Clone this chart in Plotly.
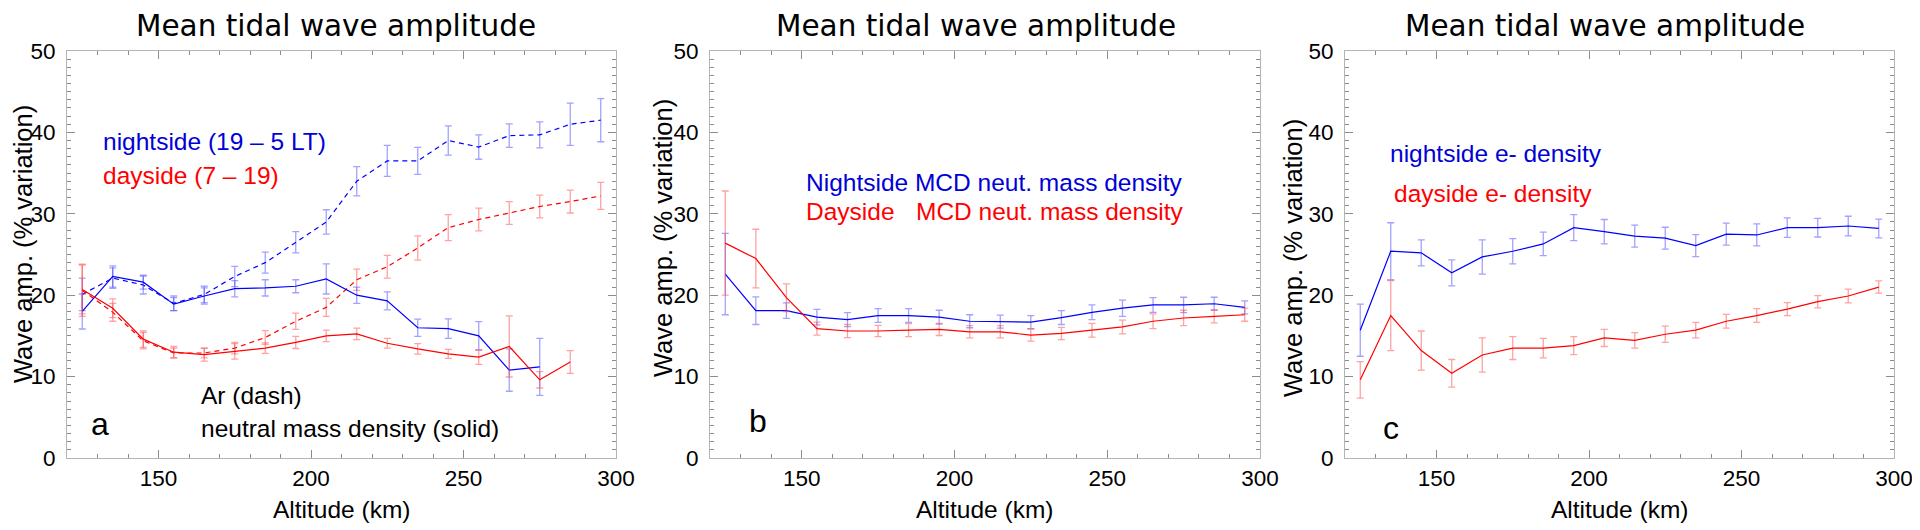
import plotly.graph_objects as go

# ---------------- data ----------------
altitude = [125, 135, 145, 155, 165, 175, 185, 195, 205, 215, 225, 235, 245, 255, 265, 275, 285, 295]

# panel a : Ar (dash) and neutral mass density (solid)
a_night_ar = [20.1, 22.1, 21.25, 19.0, 20.1, 22.3, 24.0, 26.5, 29.0, 34.0, 36.5, 36.5, 39.0, 38.2, 39.6, 39.7, 41.0, 41.5]
a_night_ar_err = [2.0, 1.25, 1.1, 0.9, 1.0, 1.25, 1.3, 1.3, 1.5, 1.8, 1.9, 1.65, 1.8, 1.5, 1.45, 1.6, 2.6, 2.65]
a_night_nmd = [18.0, 22.3, 21.6, 18.9, 19.9, 20.8, 20.9, 21.1, 22.0, 20.0, 19.3, 16.0, 15.9, 15.0, 10.8, 11.2]
a_night_nmd_err = [2.15, 1.3, 0.85, 0.8, 1.0, 1.0, 1.0, 0.8, 1.85, 1.0, 1.1, 1.05, 1.2, 1.75, 2.6, 3.5]
a_day_ar = [20.6, 17.9, 14.4, 12.9, 12.9, 13.5, 14.8, 16.8, 18.5, 21.9, 23.5, 25.8, 28.3, 29.3, 30.1, 30.9, 31.5, 32.2]
a_day_ar_err = [3.2, 1.1, 1.0, 0.6, 0.6, 0.7, 0.85, 1.0, 1.1, 1.3, 1.4, 1.5, 1.6, 1.4, 1.4, 1.4, 1.4, 1.65]
a_day_nmd = [20.7, 18.4, 14.6, 13.0, 12.7, 13.1, 13.5, 14.2, 15.0, 15.25, 14.1, 13.4, 12.8, 12.4, 13.7, 9.6, 11.8]
a_day_nmd_err = [3.0, 1.15, 1.0, 0.7, 0.8, 0.95, 0.65, 0.75, 0.7, 0.7, 0.6, 0.65, 0.55, 0.9, 3.75, 1.0, 1.4]

# panel b : MCD neutral mass density
b_night = [22.6, 18.1, 18.1, 17.3, 17.0, 17.5, 17.5, 17.3, 16.8, 16.75, 16.7, 17.25, 17.9, 18.4, 18.8, 18.8, 18.95, 18.5]
b_night_err = [5.0, 1.7, 0.95, 0.95, 0.85, 0.85, 0.85, 0.85, 0.8, 0.8, 0.8, 0.85, 0.9, 1.0, 0.9, 0.95, 0.8, 0.8]
b_day = [26.4, 24.5, 19.7, 15.9, 15.6, 15.6, 15.7, 15.8, 15.5, 15.5, 15.1, 15.3, 15.7, 16.1, 16.8, 17.2, 17.4, 17.6]
b_day_err = [6.4, 3.6, 1.7, 0.8, 0.8, 0.7, 0.8, 0.75, 0.75, 0.75, 0.75, 0.75, 0.85, 0.85, 0.9, 0.95, 0.8, 0.8]

# panel c : electron density
c_night = [15.7, 25.4, 25.2, 22.75, 24.7, 25.4, 26.3, 28.3, 27.8, 27.25, 27.0, 26.1, 27.5, 27.4, 28.3, 28.3, 28.5, 28.2]
c_night_err = [3.2, 3.5, 1.6, 1.6, 2.1, 1.55, 1.45, 1.6, 1.5, 1.35, 1.35, 1.35, 1.35, 1.35, 1.2, 1.15, 1.2, 1.15]
c_day = [9.6, 17.5, 13.2, 10.4, 12.65, 13.5, 13.5, 13.8, 14.75, 14.45, 15.2, 15.7, 16.8, 17.5, 18.3, 19.2, 19.9, 21.0]
c_day_err = [2.25, 4.3, 2.4, 1.7, 2.1, 1.4, 1.2, 1.1, 1.05, 0.95, 1.0, 0.95, 0.85, 0.85, 0.8, 0.75, 0.85, 0.75]

x_ticks = [150, 200, 250, 300]
y_ticks = [0, 10, 20, 30, 40, 50]
title_text = "Mean tidal wave amplitude"
x_title = "Altitude (km)"
y_title = "Wave amp. (% variation)"

# ---------------- styling ----------------
PAGE_W, PAGE_H = 1920, 530
OFF = 8  # default body margin of the html page
W, H = PAGE_W - OFF, PAGE_H - OFF
BLUE = "rgb(0,0,255)"
RED = "rgb(255,0,0)"
BLUE_ERR = "rgba(70,70,255,0.5)"
RED_ERR = "rgba(255,70,70,0.5)"
BLUE_TXT = "rgb(0,0,215)"
RED_TXT = "rgb(255,0,0)"
SANS = "Liberation Sans, Arial, sans-serif"
TITLE_FONT = "DejaVu Sans, Open Sans, sans-serif"


def fx(px):  # page pixel -> paper fraction
    return (px - OFF) / W


def fy(py):
    return 1 - (py - OFF) / H


panels = [  # plot-area pixel extents on the page
    dict(x0=67, x1=616),
    dict(x0=710, x1=1260),
    dict(x0=1345, x1=1894),
]
Y_TOP, Y_BOT = 51, 458

fig = go.Figure()


def add_series(i, x, y, err, color, ecolor, dash="solid"):
    n = len(y)
    fig.add_trace(go.Scatter(
        x=x[:n], y=y, mode="lines",
        line=dict(color=color, width=1.2, dash=dash),
        error_y=dict(type="data", array=err, visible=True, color=ecolor, thickness=1.3, width=3.5),
        xaxis="x" if i == 0 else f"x{i+1}",
        yaxis="y" if i == 0 else f"y{i+1}",
        showlegend=False, hoverinfo="skip",
    ))


DASH = "5px,4px"
add_series(0, altitude, a_night_ar, a_night_ar_err, BLUE, BLUE_ERR, DASH)
add_series(0, altitude, a_day_ar, a_day_ar_err, RED, RED_ERR, DASH)
add_series(0, altitude, a_night_nmd, a_night_nmd_err, BLUE, BLUE_ERR)
add_series(0, altitude, a_day_nmd, a_day_nmd_err, RED, RED_ERR)
add_series(1, altitude, b_night, b_night_err, BLUE, BLUE_ERR)
add_series(1, altitude, b_day, b_day_err, RED, RED_ERR)
add_series(2, altitude, c_night, c_night_err, BLUE, BLUE_ERR)
add_series(2, altitude, c_day, c_day_err, RED, RED_ERR)

axis_common = dict(
    showline=True, linecolor="#b4b4b4", linewidth=1, mirror="allticks",
    ticks="inside", tickcolor="#8c8c8c", tickwidth=1, ticklen=8,
    showgrid=False, zeroline=False,
    tickfont=dict(family=SANS, size=22.5, color="black"),
)

layout = dict(
    width=W, height=H, margin=dict(l=0, r=0, t=0, b=0, autoexpand=False),
    paper_bgcolor="white", plot_bgcolor="white", showlegend=False,
)

for i, p in enumerate(panels):
    xk = "xaxis" if i == 0 else f"xaxis{i+1}"
    yk = "yaxis" if i == 0 else f"yaxis{i+1}"
    xa = "x" if i == 0 else f"x{i+1}"
    ya = "y" if i == 0 else f"y{i+1}"
    layout[xk] = dict(
        axis_common, domain=[fx(p["x0"]), fx(p["x1"])], range=[120, 300],
        tickvals=x_ticks, ticktext=[str(v) for v in x_ticks], anchor=ya,
        ticklabelstandoff=0,
        minor=dict(dtick=10, tick0=120, ticks="inside", ticklen=4, tickcolor="#8c8c8c", showgrid=False),
    )
    layout[yk] = dict(
        axis_common, domain=[fy(Y_BOT), fy(Y_TOP)], range=[0, 50],
        tickvals=y_ticks, ticktext=[str(v) for v in y_ticks], anchor=xa,
        ticklabelstandoff=6,
        minor=dict(dtick=1, tick0=0, ticks="inside", ticklen=4, tickcolor="#8c8c8c", showgrid=False),
    )

fig.update_layout(**layout)

ann = []


def text(px, py, s, size, color="black", family=SANS, xanchor="left", angle=0):
    ann.append(dict(
        x=fx(px), y=fy(py), xref="paper", yref="paper", text=s, showarrow=False,
        xanchor=xanchor, yanchor="middle", textangle=angle,
        font=dict(family=family, size=size, color=color),
    ))


# titles
for cx in (336, 976, 1605):
    text(cx, 26.5, title_text, 29.5, family=TITLE_FONT, xanchor="center")
# x titles
for p in panels:
    text((p["x0"] + p["x1"]) / 2, 509, x_title, 24.5, xanchor="center")
# y titles
for cx, cy in ((23, 244), (663, 238), (1293, 258)):
    text(cx, cy, y_title, 25.5, xanchor="center", angle=-90)

# panel a texts
text(101, 142, "nightside (19 \u2013 5 LT)", 24.5, BLUE_TXT)
text(101, 175, "dayside (7 \u2013 19)", 24.5, RED_TXT)
text(199, 395, "Ar (dash)", 24.5)
text(199, 428, "neutral mass density (solid)", 24.5)
text(100, 424, "a", 32, xanchor="center")

# panel b texts
text(804, 183, "Nightside MCD neut. mass density", 24.5, BLUE_TXT)
text(804, 212, "Dayside", 24.5, RED_TXT)
text(914, 212, "MCD neut. mass density", 24.5, RED_TXT)
text(758, 421, "b", 32, xanchor="center")

# panel c texts
text(1388, 153, "nightside e- density", 24.5, BLUE_TXT)
text(1392, 193, "dayside e- density", 24.5, RED_TXT)
text(1391, 428, "c", 32, xanchor="center")

fig.update_layout(annotations=ann)
fig.write_html("out.html")
